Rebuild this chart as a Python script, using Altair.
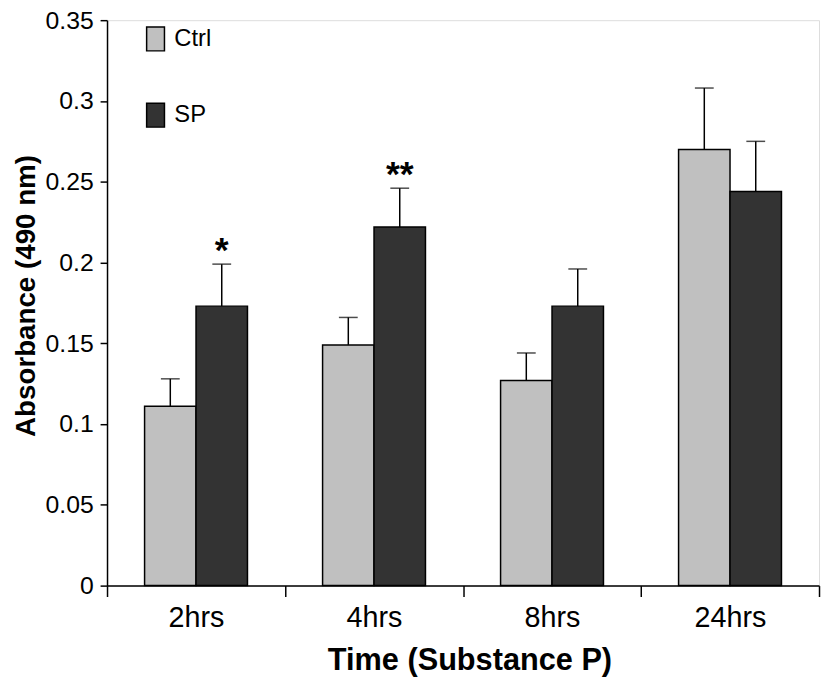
import altair as alt
import pandas as pd

times = ["2hrs", "4hrs", "8hrs", "24hrs"]
groups = ["Ctrl", "SP"]
ctrl_mean = [0.111, 0.149, 0.127, 0.270]
ctrl_err = [0.017, 0.017, 0.017, 0.038]
sp_mean = [0.173, 0.222, 0.173, 0.244]
sp_err = [0.026, 0.024, 0.023, 0.031]
sp_sig = ["*", "**", "", ""]
colors = ["#c0c0c0", "#333333"]
y_ticks = [0, 0.05, 0.1, 0.15, 0.2, 0.25, 0.3, 0.35]

rows = []
for i, t in enumerate(times):
    rows.append({"time": t, "group": "Ctrl", "value": ctrl_mean[i],
                 "upper": ctrl_mean[i] + ctrl_err[i], "sig": ""})
    rows.append({"time": t, "group": "SP", "value": sp_mean[i],
                 "upper": sp_mean[i] + sp_err[i], "sig": sp_sig[i]})
df = pd.DataFrame(rows)

FONT = "Liberation Sans"

x_enc = alt.X(
    "time:N", sort=times,
    scale=alt.Scale(paddingInner=0, paddingOuter=0),
    axis=alt.Axis(
        title="Time (Substance P)", labelAngle=0, tickBand="extent", bandPosition=0.5,
        labelAlign="center",
        tickSize=11, tickColor="black", tickWidth=1.5,
        domainColor="black", domainWidth=1.5,
        labelFontSize=29, labelColor="black", labelPadding=21, labelFont=FONT,
        titleFontSize=31, titleFontWeight="bold", titleColor="black", titleFont=FONT,
        titleX=366, titleY=85, titleBaseline="alphabetic",
    ),
)
xoff_enc = alt.XOffset("group:N", sort=groups,
                       scale=alt.Scale(paddingInner=0, paddingOuter=0.73))
y_scale = alt.Scale(domain=[0, 0.35], nice=False)
y_axis = alt.Axis(
    title="Absorbance (490 nm)", values=y_ticks, format="~g", grid=False,
    tickSize=7, tickColor="black", tickWidth=1.5,
    domainColor="black", domainWidth=1.5,
    labelFontSize=25, labelColor="black", labelPadding=7, labelFont=FONT,
    titleFontSize=28, titleFontWeight="bold", titleColor="black", titleFont=FONT,
    titleX=-73, titleY=278, titleAngle=-90, titleBaseline="alphabetic", titleAlign="center",
)

base = alt.Chart(df)

bars = base.mark_bar(stroke="black", strokeWidth=1.5).encode(
    x=x_enc,
    xOffset=xoff_enc,
    y=alt.Y("value:Q", scale=y_scale, axis=y_axis),
    color=alt.Color(
        "group:N", sort=groups,
        scale=alt.Scale(domain=groups, range=colors),
        legend=alt.Legend(
            orient="none", legendX=36, legendY=6, title=None,
            symbolType="M-0.75,-1L0.75,-1L0.75,1L-0.75,1Z", symbolSize=576,
            symbolStrokeColor="black", symbolStrokeWidth=1.5,
            labelFontSize=24, labelFont=FONT, labelColor="black",
            labelOffset=6, rowPadding=47,
        ),
    ),
)

rules = base.mark_rule(color="black", strokeWidth=1.5).encode(
    x=alt.X("time:N", sort=times),
    xOffset=alt.XOffset("group:N", sort=groups),
    y=alt.Y("value:Q"),
    y2=alt.Y2("upper:Q"),
)

caps = base.mark_tick(color="black", thickness=1.5, size=19, orient="horizontal").encode(
    x=alt.X("time:N", sort=times),
    xOffset=alt.XOffset("group:N", sort=groups),
    y=alt.Y("upper:Q"),
)

stars = base.mark_text(fontSize=36, fontWeight="bold", font=FONT, color="black",
                       baseline="alphabetic", dy=-2).encode(
    x=alt.X("time:N", sort=times),
    xOffset=alt.XOffset("group:N", sort=groups),
    y=alt.Y("upper:Q"),
    text="sig:N",
)

chart = alt.layer(rules, caps, bars, stars).properties(
    width=719, height=571,
    padding={"left": 100, "top": 9, "right": 2, "bottom": 91},
    autosize="none",
).configure_view(stroke=None).configure(font=FONT)

chart.save("out.html", embed_options={"renderer": "svg", "actions": False})
